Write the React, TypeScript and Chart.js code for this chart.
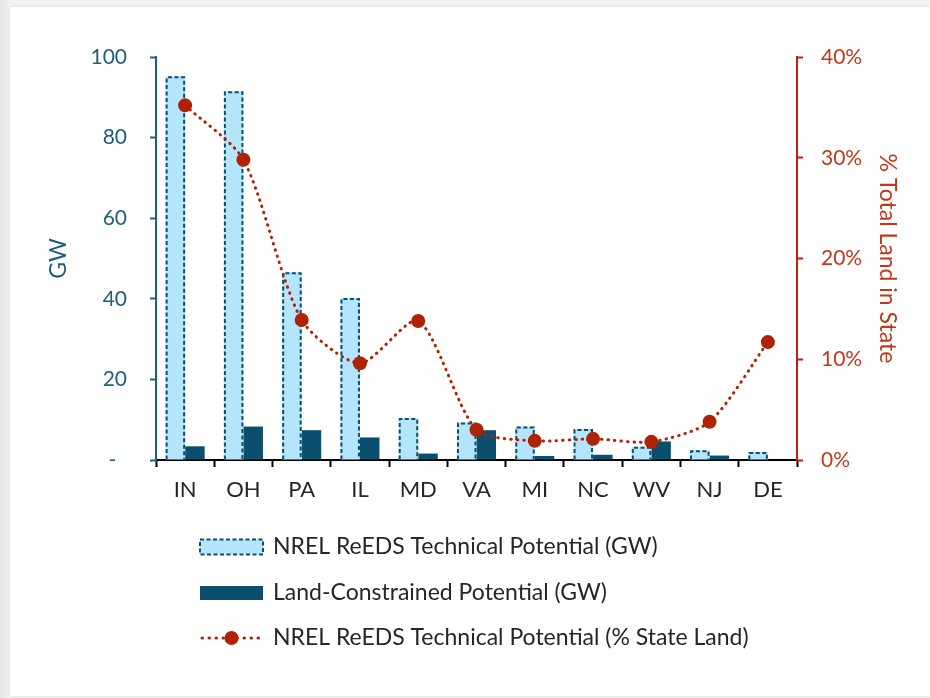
import React, { useEffect, useRef } from 'react';
import { Chart, registerables } from 'chart.js';

Chart.register(...registerables);

const states = ['IN', 'OH', 'PA', 'IL', 'MD', 'VA', 'MI', 'NC', 'WV', 'NJ', 'DE'];
const technicalGW = [95.2, 91.5, 46.6, 40.2, 10.4, 9.3, 8.3, 7.7, 3.3, 2.4, 2.0];
const constrainedGW = [3.4, 8.3, 7.4, 5.6, 1.6, 7.4, 1.0, 1.3, 4.6, 1.1, 0];
const percentLand = [35.2, 29.8, 13.9, 9.6, 13.8, 3.0, 1.9, 2.1, 1.8, 3.8, 11.7];

const legendLabels = [
  'NREL ReEDS Technical Potential (GW)',
  'Land-Constrained Potential (GW)',
  'NREL ReEDS Technical Potential (% State Land)',
];
const leftTitle = 'GW';
const rightTitle = '% Total Land in State';

const FONT = 'Lato';
const LIGHT = '#B4E5FA';
const DARK = '#0B4F6E';
const TEAL_TEXT = '#1F5F7E';
const RED = '#B02204';
const RED_AXIS = '#B8260A';
const RED_TEXT = '#C0391B';
const TEXT = '#262626';

const dashedBars = {
  id: 'dashedBars',
  afterDatasetDraw(chart: any, args: any) {
    if (args.index !== 0) return;
    const ctx = chart.ctx;
    ctx.save();
    ctx.strokeStyle = DARK;
    ctx.lineWidth = 2;
    ctx.setLineDash([4, 2.5]);
    args.meta.data.forEach((bar: any) => {
      const { x, y, base, width } = bar.getProps(['x', 'y', 'base', 'width'], true);
      const l = x - width / 2 + 1;
      const r = x + width / 2 - 1;
      ctx.beginPath();
      ctx.moveTo(l, base);
      ctx.lineTo(l, y + 1);
      ctx.lineTo(r, y + 1);
      ctx.lineTo(r, base);
      ctx.stroke();
    });
    ctx.restore();
  },
};

const customLegend = {
  id: 'customLegend',
  afterDraw(chart: any) {
    const ctx = chart.ctx;
    const symL = 200;
    const symR = 263;
    const textX = 273;
    const rows = [547, 593, 638];
    ctx.save();
    // row 1: dashed light rect
    ctx.fillStyle = LIGHT;
    ctx.fillRect(symL, rows[0] - 7.5, symR - symL, 15);
    ctx.strokeStyle = DARK;
    ctx.lineWidth = 2;
    ctx.setLineDash([4, 2.5]);
    ctx.strokeRect(symL, rows[0] - 7.5, symR - symL, 15);
    ctx.setLineDash([]);
    // row 2: solid dark rect
    ctx.fillStyle = DARK;
    ctx.fillRect(symL, rows[1] - 7, symR - symL, 14);
    // row 3: dotted line with marker
    ctx.strokeStyle = RED;
    ctx.lineWidth = 3;
    ctx.lineCap = 'round';
    ctx.setLineDash([0.5, 6.5]);
    ctx.beginPath();
    ctx.moveTo(symL + 2, rows[2]);
    ctx.lineTo(symR, rows[2]);
    ctx.stroke();
    ctx.setLineDash([]);
    ctx.fillStyle = RED;
    ctx.beginPath();
    ctx.arc((symL + symR) / 2, rows[2], 7, 0, Math.PI * 2);
    ctx.fill();
    // texts
    ctx.fillStyle = TEXT;
    ctx.font = `23px ${FONT}`;
    ctx.textBaseline = 'middle';
    ctx.textAlign = 'left';
    legendLabels.forEach((t, i) => ctx.fillText(t, textX, rows[i]));
    ctx.restore();
  },
};

export default function App() {
  const ref = useRef<HTMLCanvasElement>(null);

  useEffect(() => {
    if (!ref.current) return;
    const chart = new Chart(ref.current, {
      type: 'bar',
      data: {
        labels: states,
        datasets: [
          {
            type: 'bar',
            label: legendLabels[0],
            data: technicalGW,
            backgroundColor: LIGHT,
            borderWidth: 0,
            yAxisID: 'y',
            order: 1,
            categoryPercentage: 0.67,
            barPercentage: 1,
          },
          {
            type: 'bar',
            label: legendLabels[1],
            data: constrainedGW,
            backgroundColor: DARK,
            borderWidth: 0,
            yAxisID: 'y',
            order: 2,
            categoryPercentage: 0.67,
            barPercentage: 1,
          },
          {
            type: 'line',
            label: legendLabels[2],
            data: percentLand,
            borderColor: RED,
            borderWidth: 3,
            borderDash: [0.5, 6],
            borderCapStyle: 'round',
            tension: 0.25,
            pointRadius: 7,
            pointBackgroundColor: RED,
            pointBorderColor: RED,
            pointBorderWidth: 0,
            yAxisID: 'y1',
            order: 0,
          },
        ],
      } as any,
      options: {
        responsive: false,
        animation: false,
        layout: { padding: { top: 57, left: 0, right: 0, bottom: 0 } },
        plugins: {
          legend: { display: false },
          tooltip: { enabled: false },
        },
        scales: {
          x: {
            grid: {
              offset: true,
              drawOnChartArea: false,
              drawTicks: true,
              tickLength: 7,
              tickColor: '#000',
              tickWidth: 2,
            },
            border: { color: '#000', width: 2 },
            ticks: {
              color: TEXT,
              font: { family: FONT, size: 22 },
              padding: 10,
              maxRotation: 0,
            },
            afterFit: (s: any) => {
              s.height = 238;
            },
          },
          y: {
            position: 'left',
            min: 0,
            max: 100,
            ticks: {
              stepSize: 20,
              color: TEAL_TEXT,
              font: { family: FONT, size: 21 },
              padding: 23,
              callback: (v: any) => (v === 0 ? '-  ' : String(v)),
            },
            grid: {
              drawOnChartArea: false,
              drawTicks: true,
              tickLength: 6,
              tickColor: TEAL_TEXT,
              tickWidth: 2,
            },
            border: { color: TEAL_TEXT, width: 2 },
            title: {
              display: true,
              text: leftTitle,
              color: TEAL_TEXT,
              font: { family: FONT, size: 23 },
              padding: { top: 45, bottom: 0 },
            },
            afterFit: (s: any) => {
              s.width = 156;
            },
          },
          y1: {
            position: 'right',
            min: 0,
            max: 40,
            ticks: {
              stepSize: 10,
              color: RED_TEXT,
              font: { family: FONT, size: 21 },
              padding: 18,
              callback: (v: any) => `${v}%`,
            },
            grid: {
              drawOnChartArea: false,
              drawTicks: true,
              tickLength: 6,
              tickColor: RED_AXIS,
              tickWidth: 2,
            },
            border: { color: RED_AXIS, width: 2 },
            title: {
              display: true,
              text: rightTitle,
              color: RED_TEXT,
              font: { family: FONT, size: 23 },
              padding: { top: 29, bottom: 0 },
            },
            afterFit: (s: any) => {
              s.width = 133;
            },
          },
        },
      } as any,
      plugins: [dashedBars, customLegend],
    });
    return () => chart.destroy();
  }, []);

  return (
    <div
      style={{
        position: 'absolute',
        left: 0,
        top: 0,
        width: 930,
        height: 698,
        background: 'linear-gradient(to right, #e6e6e6, #f3f3f3 10px)',
        overflow: 'hidden',
      }}
    >
      <div
        style={{
          position: 'absolute',
          left: 10,
          top: 7,
          width: 920,
          height: 689,
          background: '#fff',
          boxShadow: '0 0 3px rgba(0,0,0,0.12)',
        }}
      />
      <canvas ref={ref} width={930} height={698} style={{ position: 'absolute', left: 0, top: 0 }} />
    </div>
  );
}
